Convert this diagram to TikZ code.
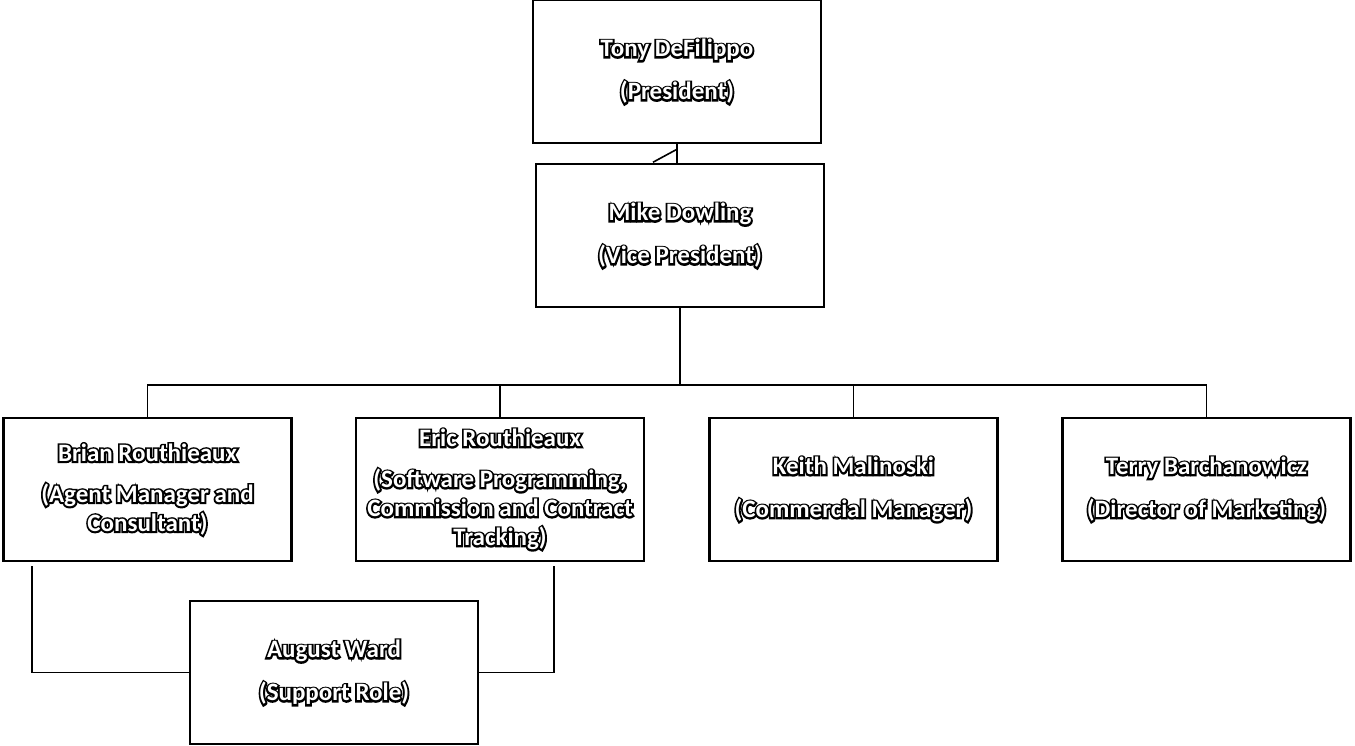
\documentclass[tikz,border=0pt]{standalone}
\usepackage{fontspec}
\setmainfont{Carlito}
\usetikzlibrary{positioning}

\newcommand{\hollow}[1]{\rlap{\special{pdf:literal direct q 1 Tr 3.6 w 0 0 0 RG}#1\special{pdf:literal direct Q}}\textcolor{white}{#1}}

\tikzset{
    member/.style={draw, line width=2.5pt, minimum width=288pt, minimum height=143pt,
        inner sep=0pt, align=center,
        font=\bfseries\fontsize{25}{29}\selectfont},
    link/.style={draw, line width=1.6pt}
}

\begin{document}
\begin{tikzpicture}[x=10pt,y=10pt]
        \useasboundingbox (0,0) rectangle (135.5,74.5);
        \node [member] (tony) at (67.7,67.35) {\hollow{Tony DeFilippo}\\[14pt]\hollow{(President)}};
        \node [member] (mike) at (68.0,50.95) {\hollow{Mike Dowling}\\[14pt]\hollow{(Vice President)}};
        \node [member] (brian) at (14.75,25.55) {\hollow{Brian Routhieaux}\\[12pt]\hollow{(Agent Manager and}\\\hollow{Consultant)}};
        \node [member] (eric) at (50.0,25.55) {\hollow{Eric Routhieaux}\\[12pt]\hollow{(Software Programming,}\\\hollow{Commission and Contract}\\\hollow{Tracking)}};
        \node [member] (keith) at (85.35,25.55) {\hollow{Keith Malinoski}\\[14pt]\hollow{(Commercial Manager)}};
        \node [member] (terry) at (120.65,25.55) {\hollow{Terry Barchanowicz}\\[14pt]\hollow{(Director of Marketing)}};
        \node [member] (august) at (33.4,7.25) {\hollow{August Ward}\\[14pt]\hollow{(Support Role)}};
        \coordinate (bus) at (68,36);
        \draw [link] (tony.south) -- (tony.south |- mike.north);
        \draw [link] ([yshift=-5pt]tony.south) -- ++(-24pt,-13pt);
        \draw [link] (mike.south) -- (bus);
        \draw [link] (brian.north) |- (bus) -| (terry.north);
        \foreach \n in {eric,keith}{\draw [link] (\n.north) -- (\n.north |- bus);}
        \draw [link] ([xshift=30pt,yshift=-4pt]brian.south west) |- (august.west);
        \draw [link] ([xshift=-91pt,yshift=-4pt]eric.south east) |- (august.east);
    \end{tikzpicture}
\end{document}
